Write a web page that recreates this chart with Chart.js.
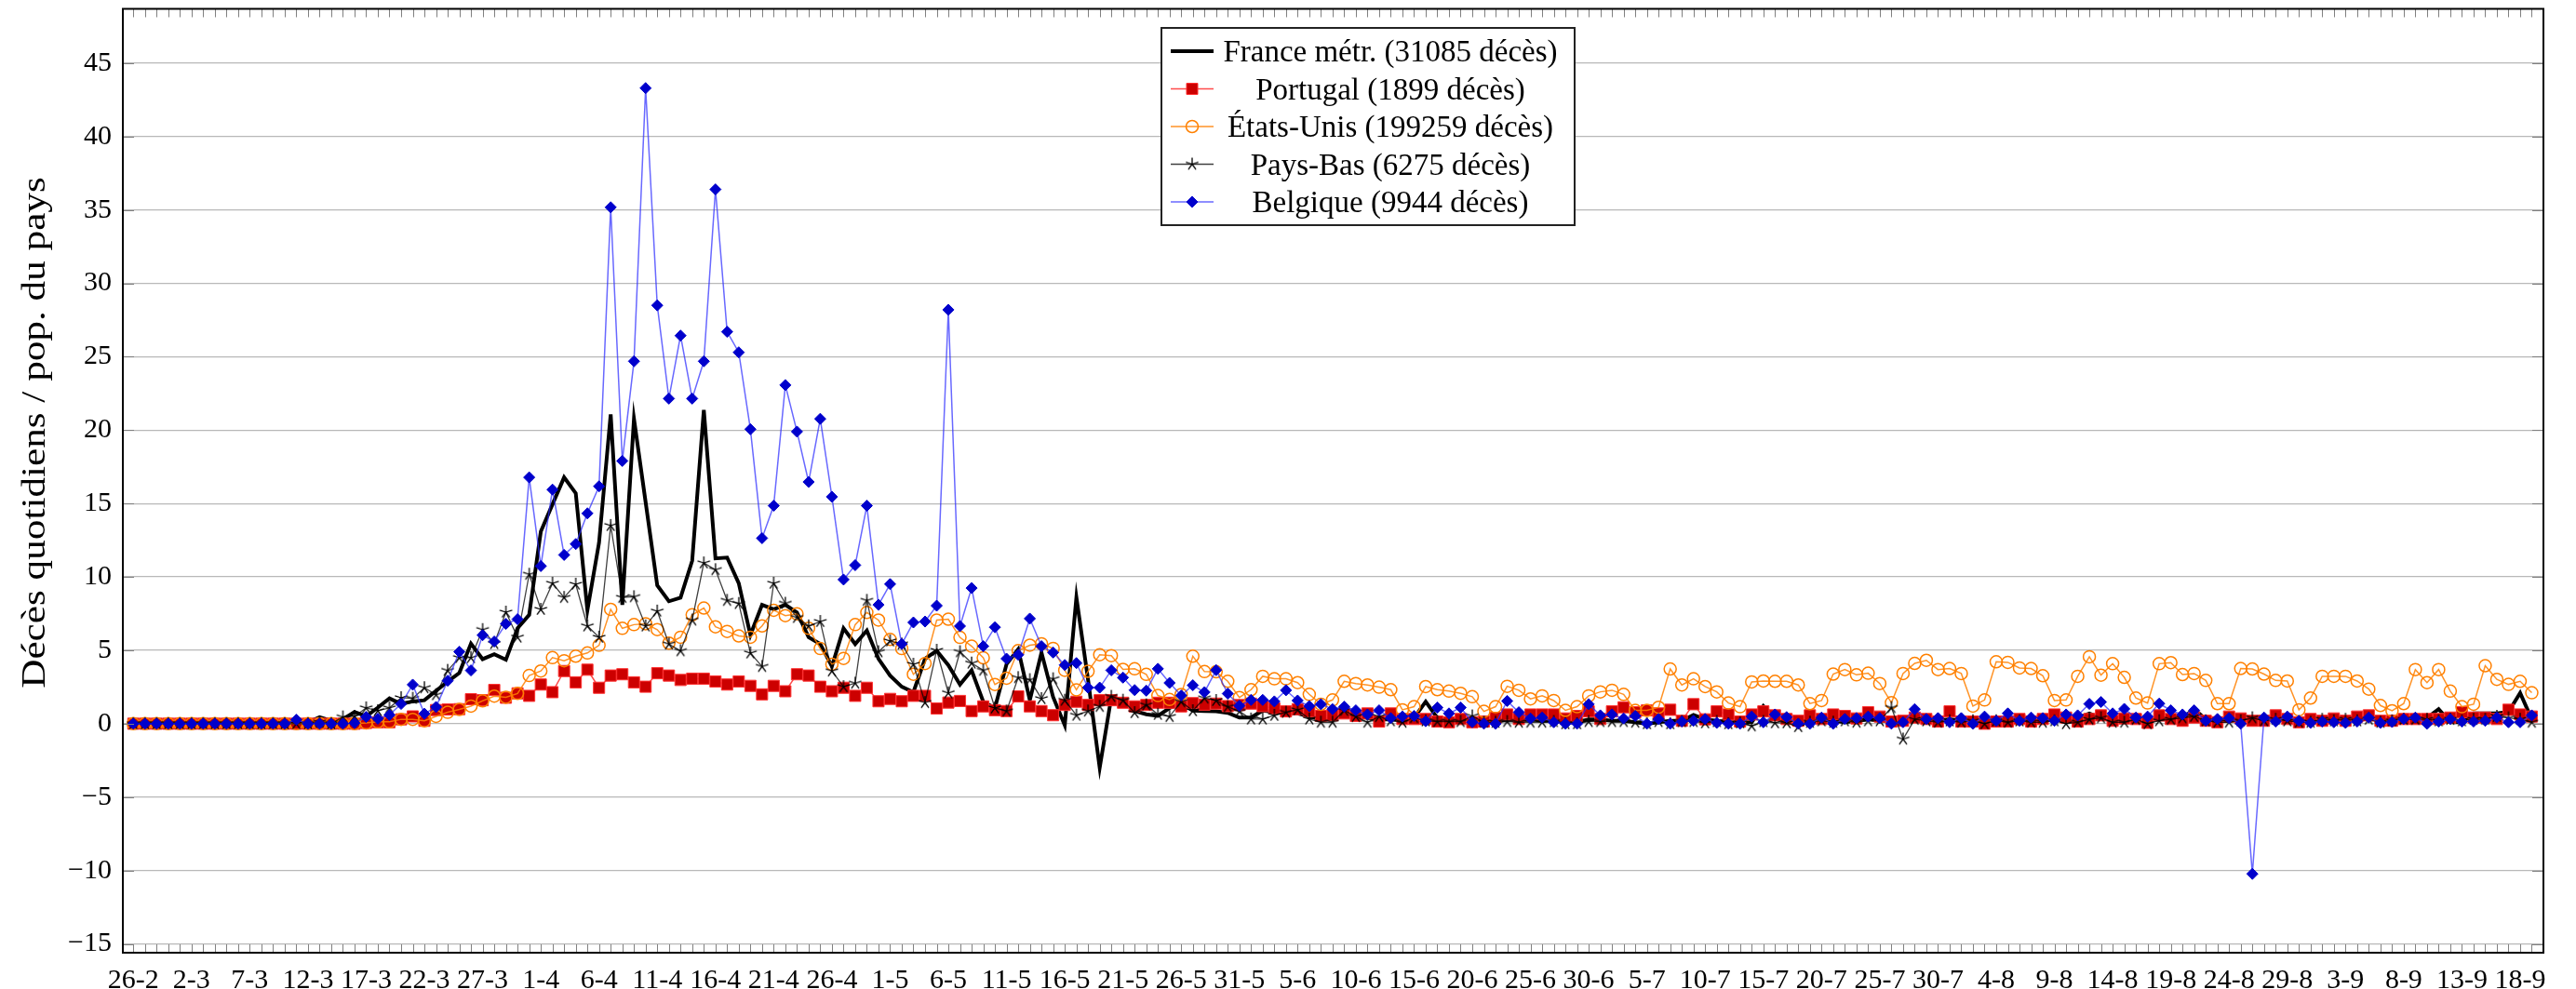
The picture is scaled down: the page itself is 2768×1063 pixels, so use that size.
<!DOCTYPE html>
<html lang="fr">
<head>
    <meta charset="UTF-8">
    <title>Décès quotidiens / pop. du pays</title>
    <script src="https://cdn.jsdelivr.net/npm/chart.js@4"></script>
    <style>
        html, body { margin: 0; padding: 0; background: #fff; }
        #wrap { width: 2768px; height: 1063px; position: relative; }
    </style>
</head>
<body>
    <div id="wrap"><canvas id="chart"></canvas></div>

    <script>
        // un point par jour, du 26-2 au 19-9
        const etiquettesX = ['26-2','2-3','7-3','12-3','17-3','22-3','27-3','1-4','6-4','11-4','16-4','21-4','26-4','1-5','6-5','11-5','16-5','21-5','26-5','31-5','5-6','10-6','15-6','20-6','25-6','30-6','5-7','10-7','15-7','20-7','25-7','30-7','4-8','9-8','14-8','19-8','24-8','29-8','3-9','8-9','13-9','18-9'];
        const ticksY = [-15, -10, -5, 0, 5, 10, 15, 20, 25, 30, 35, 40, 45];
        const titreY = 'Décès quotidiens / pop. du pays';

        const france = [
            0,0,0,0,0,0,0,0,0,0,
            0,0,0,0,0,0.1,0.45,0.2,0.3,0.8,
            0.5,1.1,1.73,1.35,1.52,1.6,2.24,2.87,3.46,5.46,
            4.4,4.73,4.36,6.5,7.42,13.1,14.94,16.78,15.7,7.73,
            12.33,21.07,8.1,20.77,15.1,9.42,8.34,8.59,11.1,21.38,
            11.26,11.32,9.57,6.04,8.1,7.8,8.1,7.58,5.89,5.43,
            3.9,6.5,5.43,6.35,4.42,3.28,2.52,2.15,4.42,4.97,
            3.99,2.67,3.64,1.5,1.07,4.06,5.07,1.6,4.85,1.82,
            -0.1,8.6,3.0,-3.0,1.82,1.6,0.86,0.64,0.53,1.07,
            1.39,0.9,0.86,0.84,0.74,0.42,0.42,0.9,0.8,0.7,
            0.7,0.5,0.3,0.3,0.6,0.5,0.4,0.3,0.3,0.3,
            0.4,1.5,0.4,0.3,0.3,0.3,0.2,0.1,0.3,0.2,
            0.3,0.2,0.2,0.1,0.1,0.3,0.3,0.2,0.2,0.1,
            0.0,0.1,0.2,0.2,0.6,0.3,0.2,0.1,0.1,0.1,
            1.2,0.4,0.3,0.2,0.1,0.2,0.2,0.1,0.2,0.3,
            0.2,0.2,0.3,0.3,0.2,0.2,0.3,0.2,0.2,0.3,
            0.3,0.2,0.3,0.2,0.3,0.2,0.3,0.4,0.7,0.4,
            0.4,0.3,0.2,0.2,0.3,0.3,0.4,1.0,0.3,0.2,
            0.2,0.3,0.2,0.3,0.3,0.3,0.2,0.2,0.3,0.3,
            0.4,0.4,0.3,0.3,0.3,0.4,0.4,0.4,1.0,0.1,
            0.1,0.7,0.7,0.7,0.8,2.1,0.3
        ];
        const portugal = [
            0,0,0,0,0,0,0,0,0,0,
            0,0,0,0,0,0,0,0,0,0,
            0.05,0.1,0.1,0.3,0.5,0.2,0.93,0.97,0.99,1.67,
            1.6,2.3,1.77,2.07,1.9,2.67,2.15,3.59,2.82,3.68,
            2.45,3.28,3.37,2.82,2.52,3.44,3.28,2.98,3.07,3.07,
            2.88,2.67,2.88,2.58,2.0,2.58,2.21,3.37,3.28,2.52,
            2.21,2.45,1.9,2.45,1.53,1.69,1.53,1.9,1.9,1.04,
            1.44,1.55,0.86,1.18,0.92,0.86,1.86,1.18,0.86,0.58,
            1.28,1.5,1.28,1.6,1.6,1.43,1.18,1.28,1.43,1.43,
            1.18,1.4,1.3,1.37,1.2,1.27,1.37,1.2,1.05,0.84,
            0.99,0.84,0.53,0.57,0.7,0.53,0.7,0.15,0.7,0.32,
            0.32,0.32,0.15,0.1,0.32,0.1,0.15,0.4,0.63,0.32,
            0.63,0.63,0.63,0.36,0.53,0.84,0.32,0.84,1.12,0.78,
            0.91,0.7,0.95,0.2,1.33,0.3,0.84,0.63,0.15,0.63,
            0.84,0.57,0.32,0.2,0.57,0.32,0.63,0.53,0.36,0.78,
            0.49,0.15,0.2,0.42,0.32,0.15,0.84,0.15,0.15,0,
            0.15,0.15,0.32,0.15,0.32,0.63,0.42,0.15,0.32,0.57,
            0.2,0.36,0.32,0.06,0.57,0.32,0.2,0.42,0.2,0.1,
            0.49,0.36,0.2,0.2,0.57,0.32,0.1,0.32,0.2,0.36,
            0.2,0.49,0.57,0.2,0.2,0.32,0.32,0.32,0.32,0.42,
            0.78,0.42,0.42,0.32,0.95,0.63,0.49
        ];
        const etatsUnis = [
            0,0,0,0,0,0,0,0,0,0,
            0,0,0,0,0,0,0,0,0,0,
            0.05,0.13,0.13,0.3,0.3,0.2,0.5,0.78,0.97,1.2,
            1.56,1.88,1.8,2.06,3.28,3.59,4.5,4.29,4.6,4.82,
            5.34,7.79,6.5,6.75,6.81,6.41,5.49,5.89,7.42,7.88,
            6.6,6.29,5.98,5.89,6.66,7.73,7.36,7.48,6.5,5.12,
            4.05,4.45,6.75,7.58,7.06,5.74,5.12,3.37,4.1,7.06,
            7.12,5.88,5.28,4.49,2.67,3.1,4.98,5.35,5.45,5.13,
            3.64,2.31,3.57,4.7,4.64,3.7,3.74,3.36,1.92,1.65,
            1.99,4.6,3.55,3.54,2.89,1.79,2.32,3.23,3.06,3.06,
            2.8,2.0,1.33,1.62,2.89,2.74,2.64,2.49,2.32,0.95,
            1.16,2.53,2.32,2.22,2.07,1.84,0.84,1.16,2.55,2.28,
            1.69,1.9,1.58,0.91,1.16,1.9,2.17,2.28,2.0,0.91,
            0.91,1.12,3.73,2.64,3.06,2.53,2.17,1.41,1.16,2.85,
            2.91,2.89,2.89,2.64,1.37,1.58,3.38,3.69,3.33,3.44,
            2.74,1.43,3.42,4.11,4.32,3.69,3.76,3.42,1.2,1.62,
            4.22,4.18,3.8,3.76,3.27,1.58,1.62,3.23,4.56,3.31,
            4.09,3.16,1.75,1.41,4.09,4.16,3.35,3.42,2.95,1.37,
            1.37,3.76,3.73,3.38,2.95,2.91,0.95,1.75,3.23,3.23,
            3.23,2.91,2.36,1.24,0.88,1.37,3.69,2.8,3.69,2.22,
            1.16,1.33,3.95,3.02,2.68,2.89,2.11
        ];
        const paysBas = [
            0,0,0,0,0,0,0,0,0,0,
            0,0,0,0,0,0,0.1,0,0.46,0.5,
            1.08,0.89,1.08,1.77,1.73,2.45,1.98,3.63,4.5,4.5,
            6.41,5.46,7.6,5.9,10.18,7.79,9.57,8.6,9.5,6.66,
            5.89,13.5,8.6,8.65,6.66,7.67,5.43,4.97,7.06,10.95,
            10.49,8.4,8.19,4.82,3.9,9.57,8.2,7.24,6.66,6.96,
            3.59,2.52,2.76,8.4,4.9,5.64,5.43,4.05,1.44,5.0,
            2.1,4.9,4.13,3.64,1.07,0.86,3.14,3.0,1.71,3.06,
            1.6,0.58,0.86,1.18,1.86,1.6,0.75,1.28,0.64,0.49,
            1.5,0.88,1.75,1.58,1.16,0.84,0.32,0.32,0.57,0.78,
            0.95,0.32,0.1,0.1,0.91,0.49,0.1,0.49,0.2,0.1,
            0.42,0.2,0.15,0.15,0.15,0.53,0.1,0.1,0.15,0.1,
            0.1,0.1,0.15,0,0,0.15,0.15,0.15,0.15,0.1,
            0,0.15,0,0.15,0.15,0.06,0.15,0,0.06,-0.15,
            0.15,0.06,0.06,-0.2,0.1,0.2,0.1,0.2,0.1,0.2,
            0.2,1.1,-1.05,0.3,0.2,0.1,0.2,0.1,0.2,0,
            0.2,0.1,0.2,0.1,0.1,0.2,0,0.1,0.3,0.4,
            0.1,0.1,0.3,0,0.2,0.3,0.4,0.5,0.2,0.1,
            0.1,0.2,0.4,0.2,0.3,0.2,0.1,0.1,0.3,0.2,
            0.3,0.2,0.3,0.1,0.2,0.3,0.3,0.3,0.2,0.3,
            0.2,0.3,0.3,0.5,0.4,0.3,0.1
        ];
        const belgique = [
            0,0,0,0,0,0,0,0,0,0,
            0,0,0,0,0.27,0,0,0,0,0.04,
            0.46,0.34,0.6,1.35,2.66,0.68,1.14,2.93,4.9,3.63,
            6.03,5.6,6.8,7.12,16.78,10.74,15.95,11.5,12.24,14.33,
            16.17,35.18,17.9,24.69,43.3,28.5,22.15,26.44,22.15,24.69,
            36.4,26.7,25.3,20.06,12.64,14.85,23.07,19.9,16.47,20.77,
            15.46,9.82,10.8,14.85,8.1,9.51,5.43,6.9,6.96,8.04,
            28.2,6.65,9.24,5.28,6.57,4.43,4.7,7.16,5.28,4.85,
            4.0,4.13,2.46,2.46,3.64,3.14,2.29,2.25,3.74,2.78,
            1.92,2.62,2.15,3.65,2.05,1.22,1.62,1.62,1.52,2.28,
            1.58,1.2,1.33,0.99,1.16,0.91,0.63,0.91,0.38,0.49,
            0.53,0.17,1.1,0.7,1.1,0.1,0,0,1.55,0.78,
            0.36,0.42,0.1,0,0,1.33,0.57,0.63,0.36,0.53,
            0,0.32,0,0.15,0.2,0.32,0.06,0,0,0.49,
            0.1,0.63,0.45,0,0,0.42,0,0.32,0.38,0.49,
            0.38,0,0.1,0.99,0.32,0.38,0.1,0.38,0,0.49,
            0.2,0.7,0.2,0.42,0.38,0.2,0.63,0.57,1.35,1.48,
            0.7,1.01,0.42,0.49,1.37,0.91,0.63,0.91,0.2,0.32,
            0.38,0,-10.23,0.42,0.15,0.49,0.2,0.06,0.15,0.1,
            0.06,0.15,0.42,0.06,0.12,0.32,0.42,0,0.15,0.32,
            0.15,0.15,0.2,0.42,0.1,0.1,0.57
        ];

        const police = '"Liberation Serif", "DejaVu Serif", serif';

        function points(valeurs) {
            return valeurs.map((v, i) => ({ x: i, y: v }));
        }

        // étoile à 5 branches comme la marque "star" de pgfplots
        function etoile(r, couleur) {
            const c = document.createElement('canvas');
            c.width = c.height = 2 * r + 4;
            const g = c.getContext('2d');
            g.strokeStyle = couleur;
            g.lineWidth = 1.3;
            g.beginPath();
            for (let k = 0; k < 5; k++) {
                const a = -Math.PI / 2 + k * 2 * Math.PI / 5;
                g.moveTo(r + 2, r + 2);
                g.lineTo(r + 2 + r * Math.cos(a), r + 2 + r * Math.sin(a));
            }
            g.stroke();
            return c;
        }
        const marqueEtoile = etoile(7, '#000');

        // cadre, petites graduations, titre de l'axe y et légende encadrée
        const cadre = {
            id: 'cadre',
            afterDatasetsDraw(chart) {
                const { ctx, chartArea: a, scales: { x, y } } = chart;
                ctx.save();
                ctx.strokeStyle = '#808080';
                ctx.lineWidth = 1;
                ctx.beginPath();
                for (let d = 0; d < france.length; d++) {
                    const px = Math.round(x.getPixelForValue(d)) + 0.5;
                    ctx.moveTo(px, a.bottom); ctx.lineTo(px, a.bottom - 9);
                    ctx.moveTo(px, a.top); ctx.lineTo(px, a.top + 9);
                }
                ticksY.forEach(v => {
                    const py = Math.round(y.getPixelForValue(v)) + 0.5;
                    ctx.moveTo(a.left, py); ctx.lineTo(a.left + 12, py);
                    ctx.moveTo(a.right, py); ctx.lineTo(a.right - 12, py);
                });
                ctx.stroke();
                ctx.strokeStyle = '#000';
                ctx.lineWidth = 2;
                ctx.strokeRect(a.left, a.top, a.right - a.left, a.bottom - a.top);
                ctx.restore();
            },
            afterDraw(chart) {
                const ctx = chart.ctx;
                ctx.save();
                ctx.translate(39, 465);
                ctx.rotate(-Math.PI / 2);
                ctx.scale(1.2, 1);
                ctx.fillStyle = '#000';
                ctx.font = '36px ' + police;
                ctx.textAlign = 'center';
                ctx.textBaseline = 'middle';
                ctx.fillText(titreY, 0, 0);
                ctx.restore();

                const bx = 1248, by = 30, bw = 444, bh = 212;
                ctx.save();
                ctx.fillStyle = '#fff';
                ctx.fillRect(bx, by, bw, bh);
                ctx.strokeStyle = '#222';
                ctx.lineWidth = 2;
                ctx.strokeRect(bx, by, bw, bh);
                ctx.font = '33px ' + police;
                ctx.textAlign = 'center';
                ctx.textBaseline = 'alphabetic';
                chart.data.datasets.forEach((ds, k) => {
                    const ly = 55 + k * 40.5;
                    ctx.strokeStyle = ds.borderColor;
                    ctx.lineWidth = ds.borderWidth;
                    ctx.beginPath();
                    ctx.moveTo(1258, ly); ctx.lineTo(1304, ly);
                    ctx.stroke();
                    dessinerMarque(ctx, ds, 1281, ly);
                    ctx.fillStyle = '#000';
                    ctx.fillText(ds.label, 1494, ly + 11);
                });
                ctx.restore();
            }
        };

        function dessinerMarque(ctx, ds, cx, cy) {
            const r = ds.pointRadius;
            if (!r) return;
            const st = ds.pointStyle;
            ctx.save();
            ctx.fillStyle = ds.pointBackgroundColor;
            ctx.strokeStyle = ds.pointBorderColor;
            ctx.lineWidth = ds.pointBorderWidth;
            ctx.beginPath();
            if (st === 'rect') {
                const s = r * Math.SQRT1_2;
                ctx.rect(cx - s, cy - s, 2 * s, 2 * s);
                ctx.fill(); ctx.stroke();
            } else if (st === 'circle') {
                ctx.arc(cx, cy, r, 0, 2 * Math.PI);
                ctx.fill(); ctx.stroke();
            } else if (st === 'rectRot') {
                ctx.moveTo(cx, cy - r); ctx.lineTo(cx + r, cy);
                ctx.lineTo(cx, cy + r); ctx.lineTo(cx - r, cy);
                ctx.closePath();
                ctx.fill(); ctx.stroke();
            } else if (st instanceof HTMLCanvasElement) {
                ctx.drawImage(st, cx - st.width / 2, cy - st.height / 2);
            }
            ctx.restore();
        }

        new Chart(document.getElementById('chart'), {
            type: 'line',
            data: {
                datasets: [
                    {
                        label: 'France métr. (31085 décès)',
                        data: points(france),
                        borderColor: '#000',
                        borderWidth: 4,
                        pointRadius: 0,
                        order: 5
                    },
                    {
                        label: 'Portugal (1899 décès)',
                        data: points(portugal),
                        borderColor: 'rgba(255,30,30,0.8)',
                        borderWidth: 1.5,
                        pointStyle: 'rect',
                        pointRadius: 8.5,
                        pointBackgroundColor: '#cc0000',
                        pointBorderColor: '#ff3030',
                        pointBorderWidth: 1,
                        order: 4
                    },
                    {
                        label: 'États-Unis (199259 décès)',
                        data: points(etatsUnis),
                        borderColor: 'rgba(255,128,0,0.85)',
                        borderWidth: 1.5,
                        pointStyle: 'circle',
                        pointRadius: 6.5,
                        pointBackgroundColor: 'rgba(255,255,255,0)',
                        pointBorderColor: '#ff8000',
                        pointBorderWidth: 1.5,
                        order: 3
                    },
                    {
                        label: 'Pays-Bas (6275 décès)',
                        data: points(paysBas),
                        borderColor: 'rgba(0,0,0,0.75)',
                        borderWidth: 1.3,
                        pointStyle: marqueEtoile,
                        pointRadius: 7,
                        pointBackgroundColor: '#000',
                        pointBorderColor: '#000',
                        pointBorderWidth: 1.2,
                        order: 2
                    },
                    {
                        label: 'Belgique (9944 décès)',
                        data: points(belgique),
                        borderColor: 'rgba(40,40,255,0.7)',
                        borderWidth: 1.5,
                        pointStyle: 'rectRot',
                        pointRadius: 6,
                        pointBackgroundColor: '#0000cc',
                        pointBorderColor: '#0000cc',
                        pointBorderWidth: 1,
                        order: 1
                    }
                ]
            },
            options: {
                responsive: true,
                maintainAspectRatio: false,
                animation: false,
                devicePixelRatio: 1,
                layout: { padding: { left: 0, right: 35, top: 9, bottom: 0 } },
                plugins: {
                    legend: { display: false },
                    tooltip: { enabled: false }
                },
                scales: {
                    x: {
                        type: 'linear',
                        min: -0.9,
                        max: 207,
                        grid: { display: false },
                        border: { display: false },
                        afterBuildTicks: s => { s.ticks = etiquettesX.map((_, k) => ({ value: 5 * k })); },
                        afterFit: s => { s.height = 39; s.paddingLeft = 0; s.paddingRight = 0; },
                        ticks: {
                            autoSkip: false,
                            maxRotation: 0,
                            padding: 4,
                            color: '#000',
                            font: { family: police, size: 30 },
                            callback: v => etiquettesX[v / 5]
                        }
                    },
                    y: {
                        min: -15.6,
                        max: 48.7,
                        afterBuildTicks: s => { s.ticks = ticksY.map(v => ({ value: v })); },
                        afterFit: s => { s.width = 132; s.paddingTop = 0; s.paddingBottom = 0; },
                        grid: { color: '#b8b8b8', lineWidth: 1.2, drawTicks: false },
                        border: { display: false },
                        ticks: {
                            padding: 12,
                            color: '#000',
                            font: { family: police, size: 30 },
                            callback: v => (v < 0 ? '\u2212' + Math.abs(v) : String(v))
                        }
                    }
                }
            },
            plugins: [cadre]
        });
    </script>
</body>
</html>
